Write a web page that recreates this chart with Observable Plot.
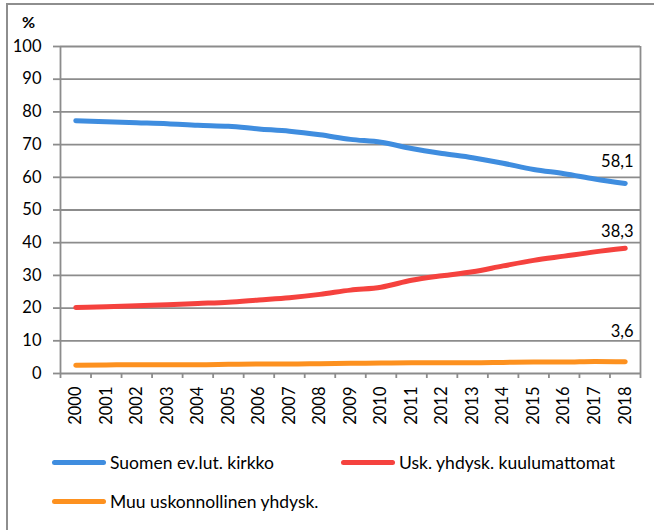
<!DOCTYPE html>
<html>
<head>
<meta charset="utf-8">
<script src="https://cdn.jsdelivr.net/npm/d3@7"></script>
<script src="https://cdn.jsdelivr.net/npm/@observablehq/plot@0.6"></script>
<style>
  html, body { margin: 0; padding: 0; background: #fff; }
  #wrap { position: relative; width: 654px; height: 530px; overflow: hidden; font-family: Lato, sans-serif; }
  #border { position: absolute; left: 6px; top: 3px; width: 720px; height: 640px; border: 2px solid #8e8e8e; box-sizing: border-box; }
  #chart { position: absolute; left: 0; top: 0; }
  #pct { position: absolute; left: 22px; top: 12px; font-weight: bold; font-size: 16px; color: #000; }
  #legend { position: absolute; left: 0; top: 440px; width: 654px; height: 90px; font-size: 17.5px; color: #000; }
  .item { position: absolute; display: flex; align-items: center; height: 20px; }
  .sw { width: 54px; height: 5px; border-radius: 3px; margin-right: 4px; }
</style>
</head>
<body>
<div id="wrap">
  <div id="border"></div>
  <div id="chart"></div>
  <div id="pct">%</div>
  <div id="legend"></div>
</div>
<script>
const years = [2000,2001,2002,2003,2004,2005,2006,2007,2008,2009,2010,2011,2012,2013,2014,2015,2016,2017,2018];
const seriesNames = ["Suomen ev.lut. kirkko", "Usk. yhdysk. kuulumattomat", "Muu uskonnollinen yhdysk."];
const evlut = [77.3,77.0,76.7,76.4,75.9,75.6,74.8,74.1,73.0,71.6,70.7,68.8,67.3,66.0,64.3,62.4,61.1,59.5,58.1];
const nonmember = [20.2,20.4,20.7,21.0,21.4,21.8,22.5,23.2,24.2,25.5,26.4,28.5,29.9,31.1,32.9,34.6,35.9,37.2,38.3];
const other = [2.5,2.6,2.7,2.7,2.7,2.8,2.9,2.9,3.0,3.1,3.2,3.3,3.3,3.3,3.4,3.5,3.5,3.7,3.6];
const yTicks = [0,10,20,30,40,50,60,70,80,90,100];

const colors = ["#3f8ddf", "#f5423e", "#fd911f"];
const values = [evlut, nonmember, other];
const labelDy = [-16.5, -11, -24.5];

const rows = [];
values.forEach((arr, s) => arr.forEach((v, i) => rows.push({series: seriesNames[s], year: years[i], value: v})));
const boundaries = [years[0] - 0.5, ...years.map(y => y + 0.5)];
const grid = "#8c8c8c";

const lineMarks = [];
const labelMarks = [];
values.forEach((arr, s) => {
  const data = rows.filter(r => r.series === seriesNames[s]);
  lineMarks.push(Plot.line(data, {x: "year", y: "value", stroke: colors[s], strokeWidth: 5, strokeLinecap: "round", strokeLinejoin: "round", curve: "monotone-x"}));
  const last = data[data.length - 1];
  labelMarks.push(Plot.text([last], {x: "year", y: "value", text: d => String(d.value).replace(".", ","), textAnchor: "end", lineAnchor: "bottom", dx: 8.3, dy: labelDy[s], fill: "#000", fontSize: 16.5}));
});

const chart = Plot.plot({
  width: 654,
  height: 440,
  marginLeft: 60,
  marginRight: 14,
  marginTop: 46,
  marginBottom: 67,
  style: {fontFamily: "Lato, sans-serif", fontSize: "16.5px", color: "#000", background: "transparent", overflow: "visible"},
  x: {domain: [boundaries[0], boundaries[boundaries.length - 1]]},
  y: {domain: [0, 100]},
  marks: [
    Plot.gridY(yTicks, {stroke: grid, strokeOpacity: 1, strokeWidth: 1.8}),
    Plot.ruleX([boundaries[0], boundaries[boundaries.length - 1]], {stroke: grid, strokeWidth: 1.8}),
    Plot.axisY({ticks: yTicks, tickSize: 7, tickPadding: 12, stroke: grid, strokeWidth: 1.8, label: null, fill: "#000"}),
    Plot.axisX({ticks: boundaries, tickSize: 5, tickFormat: () => "", stroke: grid, strokeWidth: 1.8, label: null}),
    Plot.axisX({ticks: years, tickSize: 0, tickPadding: 13, tickRotate: -90, tickFormat: d => String(d), label: null, fill: "#000"}),
    ...lineMarks,
    ...labelMarks
  ]
});
document.getElementById("chart").appendChild(chart);

const legend = document.getElementById("legend");
const pos = [[52, 12], [341, 12], [52, 51]];
seriesNames.forEach((name, s) => {
  const it = document.createElement("div");
  it.className = "item";
  it.style.left = pos[s][0] + "px";
  it.style.top = pos[s][1] + "px";
  it.innerHTML = `<div class="sw" style="background:${colors[s]}"></div><span>${name}</span>`;
  legend.appendChild(it);
});
</script>
</body>
</html>
